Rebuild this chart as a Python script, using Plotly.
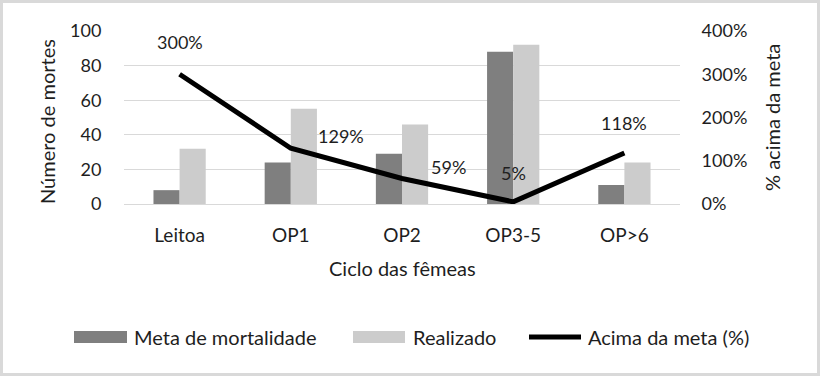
import plotly.graph_objects as go

categories = ["Leitoa", "OP1", "OP2", "OP3-5", "OP>6"]
meta = [8, 24, 29, 88, 11]
realizado = [32, 55, 46, 92, 24]
acima = [300, 129, 59, 5, 118]
acima_labels = ["300%", "129%", "59%", "5%", "118%"]
series_names = ["Meta de mortalidade", "Realizado", "Acima da meta (%)"]

FONT = "Lato"
TXT = "#1e1e1e"
C_DARK, C_LIGHT = "#7f7f7f", "#cccccc"

W, H = 820, 376
l, r, t, b = 124, 140, 31, 172
pw, ph = W - l - r, H - t - b


def px(x):
    return (x - l) / pw


def py(y):
    return (H - b - y) / ph


fig = go.Figure()
fig.add_trace(go.Bar(x=categories, y=meta, name=series_names[0],
                     marker=dict(color=C_DARK, line=dict(width=0))))
fig.add_trace(go.Bar(x=categories, y=realizado, name=series_names[1],
                     marker=dict(color=C_LIGHT, line=dict(width=0))))
fig.add_trace(go.Scatter(x=categories, y=acima, name=series_names[2], yaxis="y2",
                         mode="lines", line=dict(color="black", width=5)))

# data labels of the line (pixel offsets)
offs = [(0, 32), (50, 12), (46, 11), (0, 29), (0, 30)]
for c, v, tx, (dx, dy) in zip(categories, acima, acima_labels, offs):
    fig.add_annotation(x=c, y=v, yref="y2", text=tx, showarrow=False,
                       xanchor="center", yanchor="middle",
                       xshift=dx, yshift=dy, font=dict(family=FONT, size=18, color=TXT))

# outer border
fig.add_shape(type="rect", xref="paper", yref="paper",
              x0=px(1.5), x1=px(W - 1.5), y0=py(H - 1.5), y1=py(1.5),
              line=dict(color="#d9d9d9", width=3), layer="below")

# axis titles
fig.add_annotation(xref="paper", yref="paper", x=px(47), y=py(122), text="Número de mortes",
                   textangle=-90, showarrow=False, xanchor="center", yanchor="middle",
                   font=dict(family=FONT, size=20, color=TXT))
fig.add_annotation(xref="paper", yref="paper", x=px(772), y=py(118), text="% acima da meta",
                   textangle=-90, showarrow=False, xanchor="center", yanchor="middle",
                   font=dict(family=FONT, size=20, color=TXT))
fig.add_annotation(xref="paper", yref="paper", x=px(402), y=py(268), text="Ciclo das fêmeas",
                   showarrow=False, xanchor="center", yanchor="middle",
                   font=dict(family=FONT, size=20, color=TXT))

# custom legend
ly = 337
fig.add_shape(type="rect", xref="paper", yref="paper", x0=px(74), x1=px(127),
              y0=py(343), y1=py(331), fillcolor=C_DARK, line=dict(width=0))
fig.add_shape(type="rect", xref="paper", yref="paper", x0=px(353), x1=px(405),
              y0=py(343), y1=py(331), fillcolor=C_LIGHT, line=dict(width=0))
fig.add_shape(type="line", xref="paper", yref="paper", x0=px(529), x1=px(581),
              y0=py(ly), y1=py(ly), line=dict(color="black", width=5))
for xx, name in zip([132, 411, 586], series_names):
    fig.add_annotation(xref="paper", yref="paper", x=px(xx), y=py(ly), text=name,
                       xanchor="left", yanchor="middle", showarrow=False,
                       font=dict(family=FONT, size=20, color=TXT))

fig.update_layout(
    width=W, height=H,
    margin=dict(l=l, r=r, t=t, b=b, pad=0),
    paper_bgcolor="white", plot_bgcolor="white",
    font=dict(family=FONT, size=17, color=TXT),
    barmode="group", bargap=0.53, bargroupgap=0,
    showlegend=False,
    xaxis=dict(showgrid=False, showline=False, ticks="outside", ticklen=14,
               tickcolor="rgba(0,0,0,0)", automargin=False,
               tickfont=dict(family=FONT, size=19, color=TXT)),
    yaxis=dict(range=[0, 100], dtick=20, showgrid=True, gridcolor="#d9d9d9", gridwidth=1,
               zeroline=True, zerolinecolor="#d9d9d9", zerolinewidth=1, showline=False,
               ticks="outside", ticklen=18, tickcolor="rgba(0,0,0,0)", automargin=False,
               tickfont=dict(family=FONT, size=18, color=TXT)),
    yaxis2=dict(range=[0, 400], dtick=100, overlaying="y", side="right",
                showgrid=False, zeroline=False, showline=False, ticksuffix="%",
                ticks="outside", ticklen=17, tickcolor="rgba(0,0,0,0)", automargin=False,
                tickfont=dict(family=FONT, size=18, color=TXT)),
)

fig.write_html("out.html", config={"displayModeBar": False},
               post_script="document.body.style.margin='0';document.body.style.overflow='hidden';")
